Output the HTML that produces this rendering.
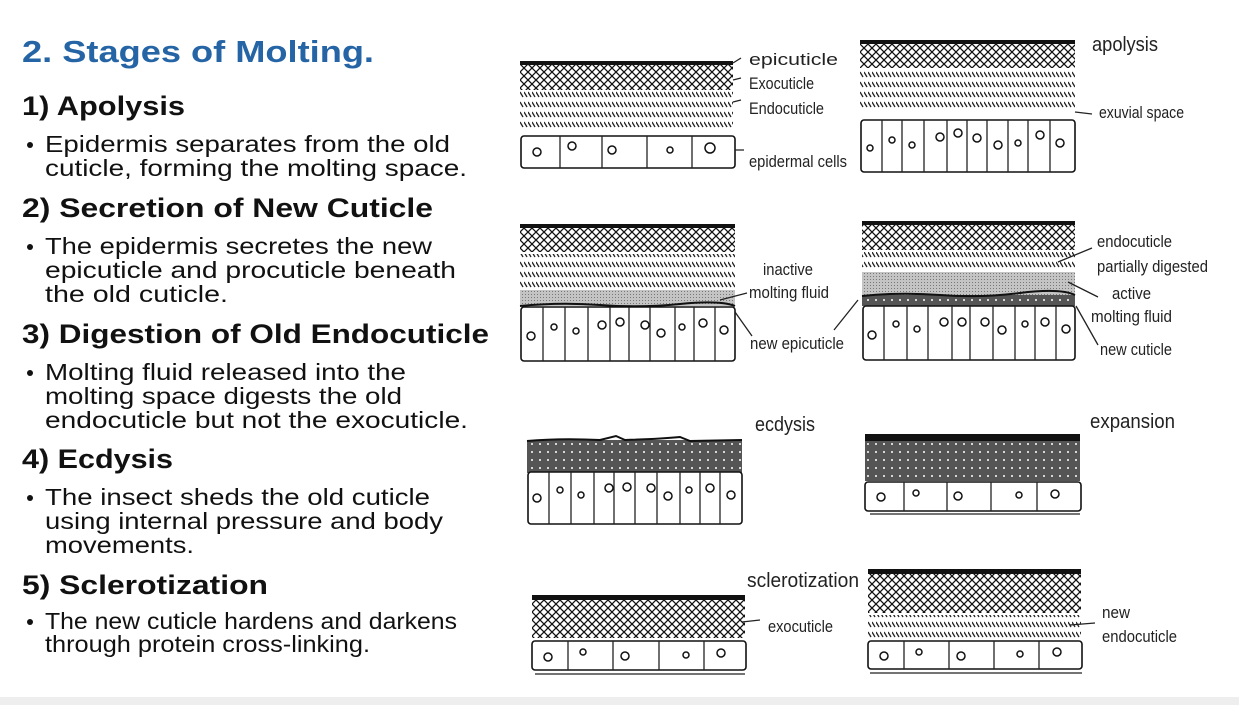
<!DOCTYPE html>
<html><head><meta charset="utf-8"><style>
html,body{margin:0;padding:0;background:#fff;}
svg{display:block;font-family:"Liberation Sans",sans-serif;}
.b{font-size:23px;fill:#111;}
.h{font-size:27px;font-weight:bold;fill:#111;}
.l{font-size:17px;fill:#222;}
.c{fill:#fff;stroke:#111;stroke-width:1.6;}
.n{fill:#fff;stroke:#111;stroke-width:1.5;}
.ld{stroke:#222;stroke-width:1.3;fill:none;}
</style></head><body>
<svg width="1239" height="705" viewBox="0 0 1239 705">
<defs>
<pattern id="x" width="8" height="8" patternUnits="userSpaceOnUse"><rect width="8" height="8" fill="#fff"/><path d="M0,0L8,8M8,0L0,8" stroke="#111" stroke-width="1.3"/></pattern>
<pattern id="s" width="4" height="10" patternUnits="userSpaceOnUse"><rect width="4" height="10" fill="#fff"/><path d="M0,2L3,7" stroke="#222" stroke-width="1.3"/></pattern>
<pattern id="g" width="3" height="3" patternUnits="userSpaceOnUse"><rect width="3" height="3" fill="#c4c4c4"/><rect width="1" height="1" fill="#777"/></pattern>
<pattern id="d" width="8" height="8" patternUnits="userSpaceOnUse"><rect width="8" height="8" fill="#555"/><circle cx="4" cy="4" r="1" fill="#fff"/></pattern>
</defs>
<rect x="0" y="697" width="1239" height="8" fill="#eee"/>
<text x="22" y="62" font-size="31" font-weight="bold" fill="#2565a5" textLength="352" lengthAdjust="spacingAndGlyphs">2. Stages of Molting.</text>
<text class="h" x="22" y="115" textLength="163" lengthAdjust="spacingAndGlyphs">1) Apolysis</text>
<text class="h" x="22" y="217" textLength="411" lengthAdjust="spacingAndGlyphs">2) Secretion of New Cuticle</text>
<text class="h" x="22" y="343" textLength="467" lengthAdjust="spacingAndGlyphs">3) Digestion of Old Endocuticle</text>
<text class="h" x="22" y="468" textLength="151" lengthAdjust="spacingAndGlyphs">4) Ecdysis</text>
<text class="h" x="22" y="594" textLength="246" lengthAdjust="spacingAndGlyphs">5) Sclerotization</text>
<g class="b">
<circle cx="30" cy="145" r="3" fill="#111"/><circle cx="30" cy="247" r="3" fill="#111"/><circle cx="30" cy="373" r="3" fill="#111"/><circle cx="30" cy="498" r="3" fill="#111"/><circle cx="30" cy="622" r="3" fill="#111"/>
<text x="45" y="152" textLength="405" lengthAdjust="spacingAndGlyphs">Epidermis separates from the old</text>
<text x="45" y="176" textLength="422" lengthAdjust="spacingAndGlyphs">cuticle, forming the molting space.</text>
<text x="45" y="254" textLength="387" lengthAdjust="spacingAndGlyphs">The epidermis secretes the new</text>
<text x="45" y="278" textLength="411" lengthAdjust="spacingAndGlyphs">epicuticle and procuticle beneath</text>
<text x="45" y="302" textLength="183" lengthAdjust="spacingAndGlyphs">the old cuticle.</text>
<text x="45" y="380" textLength="361" lengthAdjust="spacingAndGlyphs">Molting fluid released into the</text>
<text x="45" y="404" textLength="357" lengthAdjust="spacingAndGlyphs">molting space digests the old</text>
<text x="45" y="428" textLength="423" lengthAdjust="spacingAndGlyphs">endocuticle but not the exocuticle.</text>
<text x="45" y="505" textLength="385" lengthAdjust="spacingAndGlyphs">The insect sheds the old cuticle</text>
<text x="45" y="529" textLength="398" lengthAdjust="spacingAndGlyphs">using internal pressure and body</text>
<text x="45" y="553" textLength="149" lengthAdjust="spacingAndGlyphs">movements.</text>
<text x="45" y="629" textLength="412" lengthAdjust="spacingAndGlyphs">The new cuticle hardens and darkens</text>
<text x="45" y="652" textLength="325" lengthAdjust="spacingAndGlyphs">through protein cross-linking.</text>
</g>

<rect x="520" y="61" width="213" height="4" fill="#111"/>
<rect x="520" y="65" width="213" height="25" fill="url(#x)"/>
<rect x="520" y="91" width="213" height="40" fill="url(#s)"/>
<rect class="c" x="521" y="136" width="214" height="32" rx="3"/>
<path class="ld" d="M560,136V168M602,136V168M647,136V168M692,136V168"/>
<circle class="n" cx="537" cy="152" r="4"/><circle class="n" cx="572" cy="146" r="4"/><circle class="n" cx="612" cy="150" r="4"/><circle class="n" cx="670" cy="150" r="3"/><circle class="n" cx="710" cy="148" r="5"/>
<path class="ld" d="M733,63L741,58M733,80L741,78M733,102L741,100M735,150L744,150"/>
<g class="l">
<text x="749" y="65" textLength="89" lengthAdjust="spacingAndGlyphs">epicuticle</text>
<text x="749" y="89" textLength="65" lengthAdjust="spacingAndGlyphs">Exocuticle</text>
<text x="749" y="114" textLength="75" lengthAdjust="spacingAndGlyphs">Endocuticle</text>
<text x="749" y="167" textLength="98" lengthAdjust="spacingAndGlyphs">epidermal cells</text>
</g>

<rect x="860" y="40" width="215" height="4" fill="#111"/>
<rect x="860" y="44" width="215" height="24" fill="url(#x)"/>
<rect x="860" y="70" width="215" height="40" fill="url(#s)"/>
<rect class="c" x="861" y="120" width="214" height="52" rx="3"/>
<path class="ld" d="M882,120V172M902,120V172M924,120V172M947,120V172M967,120V172M987,120V172M1008,120V172M1028,120V172M1050,120V172"/>
<circle class="n" cx="870" cy="148" r="3"/><circle class="n" cx="892" cy="140" r="3"/><circle class="n" cx="912" cy="145" r="3"/><circle class="n" cx="940" cy="137" r="4"/><circle class="n" cx="958" cy="133" r="4"/><circle class="n" cx="977" cy="138" r="4"/><circle class="n" cx="998" cy="145" r="4"/><circle class="n" cx="1018" cy="143" r="3"/><circle class="n" cx="1040" cy="135" r="4"/><circle class="n" cx="1060" cy="143" r="4"/>
<path class="ld" d="M1075,112L1092,114"/>
<text x="1092" y="51" font-size="20" fill="#222" textLength="66" lengthAdjust="spacingAndGlyphs">apolysis</text>
<text class="l" x="1099" y="118" textLength="85" lengthAdjust="spacingAndGlyphs">exuvial space</text>

<rect x="520" y="224" width="215" height="4" fill="#111"/>
<rect x="520" y="228" width="215" height="24" fill="url(#x)"/>
<rect x="520" y="254" width="215" height="36" fill="url(#s)"/>
<rect x="520" y="290" width="215" height="16" fill="url(#g)"/>
<path d="M520,306Q560,302 600,305T680,304T735,306" stroke="#111" stroke-width="2" fill="none"/>
<rect class="c" x="521" y="307" width="214" height="54" rx="3"/>
<path class="ld" d="M543,307V361M565,307V361M588,307V361M610,307V361M629,307V361M650,307V361M675,307V361M694,307V361M715,307V361"/>
<circle class="n" cx="531" cy="336" r="4"/><circle class="n" cx="554" cy="327" r="3"/><circle class="n" cx="576" cy="331" r="3"/><circle class="n" cx="602" cy="325" r="4"/><circle class="n" cx="620" cy="322" r="4"/><circle class="n" cx="645" cy="325" r="4"/><circle class="n" cx="661" cy="333" r="4"/><circle class="n" cx="682" cy="327" r="3"/><circle class="n" cx="703" cy="323" r="4"/><circle class="n" cx="724" cy="330" r="4"/>
<path class="ld" d="M720,300L747,293M735,312L752,336"/>
<g class="l">
<text x="763" y="275" textLength="50" lengthAdjust="spacingAndGlyphs">inactive</text>
<text x="749" y="298" textLength="80" lengthAdjust="spacingAndGlyphs">molting fluid</text>
<text x="750" y="349" textLength="94" lengthAdjust="spacingAndGlyphs">new epicuticle</text>
</g>

<rect x="862" y="221" width="213" height="4" fill="#111"/>
<rect x="862" y="225" width="213" height="25" fill="url(#x)"/>
<rect x="862" y="252" width="213" height="18" fill="url(#s)"/>
<rect x="862" y="272" width="213" height="23" fill="url(#g)"/>
<rect x="862" y="295" width="213" height="11" fill="url(#d)"/>
<path d="M862,296Q900,292 940,295T1020,293T1075,295" stroke="#111" stroke-width="2" fill="none"/>
<rect class="c" x="863" y="306" width="212" height="54" rx="3"/>
<path class="ld" d="M884,306V360M907,306V360M928,306V360M952,306V360M970,306V360M993,306V360M1015,306V360M1035,306V360M1056,306V360"/>
<circle class="n" cx="872" cy="335" r="4"/><circle class="n" cx="896" cy="324" r="3"/><circle class="n" cx="917" cy="329" r="3"/><circle class="n" cx="944" cy="322" r="4"/><circle class="n" cx="962" cy="322" r="4"/><circle class="n" cx="985" cy="322" r="4"/><circle class="n" cx="1002" cy="330" r="4"/><circle class="n" cx="1025" cy="324" r="3"/><circle class="n" cx="1045" cy="322" r="4"/><circle class="n" cx="1066" cy="329" r="4"/>
<path class="ld" d="M858,300L834,330M1058,262L1092,248M1068,282L1098,297M1076,306L1098,345"/>
<g class="l">
<text x="1097" y="247" textLength="75" lengthAdjust="spacingAndGlyphs">endocuticle</text>
<text x="1097" y="272" textLength="111" lengthAdjust="spacingAndGlyphs">partially digested</text>
<text x="1112" y="299" textLength="39" lengthAdjust="spacingAndGlyphs">active</text>
<text x="1091" y="322" textLength="81" lengthAdjust="spacingAndGlyphs">molting fluid</text>
<text x="1100" y="355" textLength="72" lengthAdjust="spacingAndGlyphs">new cuticle</text>
</g>

<rect x="527" y="440" width="215" height="33" fill="url(#d)"/>
<path d="M527,441Q560,438 600,440L616,436L625,440Q660,439 680,437L690,441L742,440" stroke="#111" stroke-width="2" fill="none"/>
<rect class="c" x="528" y="472" width="214" height="52" rx="3"/>
<path class="ld" d="M549,472V524M571,472V524M594,472V524M614,472V524M635,472V524M657,472V524M680,472V524M700,472V524M720,472V524"/>
<circle class="n" cx="537" cy="498" r="4"/><circle class="n" cx="560" cy="490" r="3"/><circle class="n" cx="581" cy="495" r="3"/><circle class="n" cx="609" cy="488" r="4"/><circle class="n" cx="627" cy="487" r="4"/><circle class="n" cx="651" cy="488" r="4"/><circle class="n" cx="668" cy="496" r="4"/><circle class="n" cx="689" cy="490" r="3"/><circle class="n" cx="710" cy="488" r="4"/><circle class="n" cx="731" cy="495" r="4"/>
<text x="755" y="431" font-size="20" fill="#222" textLength="60" lengthAdjust="spacingAndGlyphs">ecdysis</text>

<rect x="865" y="434" width="215" height="7" fill="#111"/>
<rect x="865" y="441" width="215" height="40" fill="url(#d)"/>
<rect class="c" x="865" y="482" width="216" height="29" rx="3"/>
<path class="ld" d="M904,482V511M947,482V511M991,482V511M1037,482V511M870,514H1080"/>
<circle class="n" cx="881" cy="497" r="4"/><circle class="n" cx="916" cy="493" r="3"/><circle class="n" cx="958" cy="496" r="4"/><circle class="n" cx="1019" cy="495" r="3"/><circle class="n" cx="1055" cy="494" r="4"/>
<text x="1090" y="428" font-size="20" fill="#222" textLength="85" lengthAdjust="spacingAndGlyphs">expansion</text>

<rect x="532" y="595" width="213" height="5" fill="#111"/>
<rect x="532" y="600" width="213" height="38" fill="url(#x)"/>
<rect class="c" x="532" y="641" width="214" height="29" rx="3"/>
<path class="ld" d="M568,641V670M613,641V670M659,641V670M704,641V670M535,674H745"/>
<circle class="n" cx="548" cy="657" r="4"/><circle class="n" cx="583" cy="652" r="3"/><circle class="n" cx="625" cy="656" r="4"/><circle class="n" cx="686" cy="655" r="3"/><circle class="n" cx="721" cy="653" r="4"/>
<path class="ld" d="M742,622L760,620"/>
<text x="747" y="587" font-size="20" fill="#222" textLength="112" lengthAdjust="spacingAndGlyphs">sclerotization</text>
<text class="l" x="768" y="632" textLength="65" lengthAdjust="spacingAndGlyphs">exocuticle</text>

<rect x="868" y="569" width="213" height="5" fill="#111"/>
<rect x="868" y="574" width="213" height="39" fill="url(#x)"/>
<rect x="868" y="615" width="213" height="25" fill="url(#s)"/>
<rect class="c" x="868" y="641" width="214" height="28" rx="3"/>
<path class="ld" d="M904,641V669M949,641V669M994,641V669M1039,641V669M870,673H1082"/>
<circle class="n" cx="884" cy="656" r="4"/><circle class="n" cx="919" cy="652" r="3"/><circle class="n" cx="961" cy="656" r="4"/><circle class="n" cx="1020" cy="654" r="3"/><circle class="n" cx="1057" cy="652" r="4"/>
<path class="ld" d="M1070,625L1095,623"/>
<text class="l" x="1102" y="618" textLength="28" lengthAdjust="spacingAndGlyphs">new</text>
<text class="l" x="1102" y="642" textLength="75" lengthAdjust="spacingAndGlyphs">endocuticle</text>
</svg>
</body></html>
